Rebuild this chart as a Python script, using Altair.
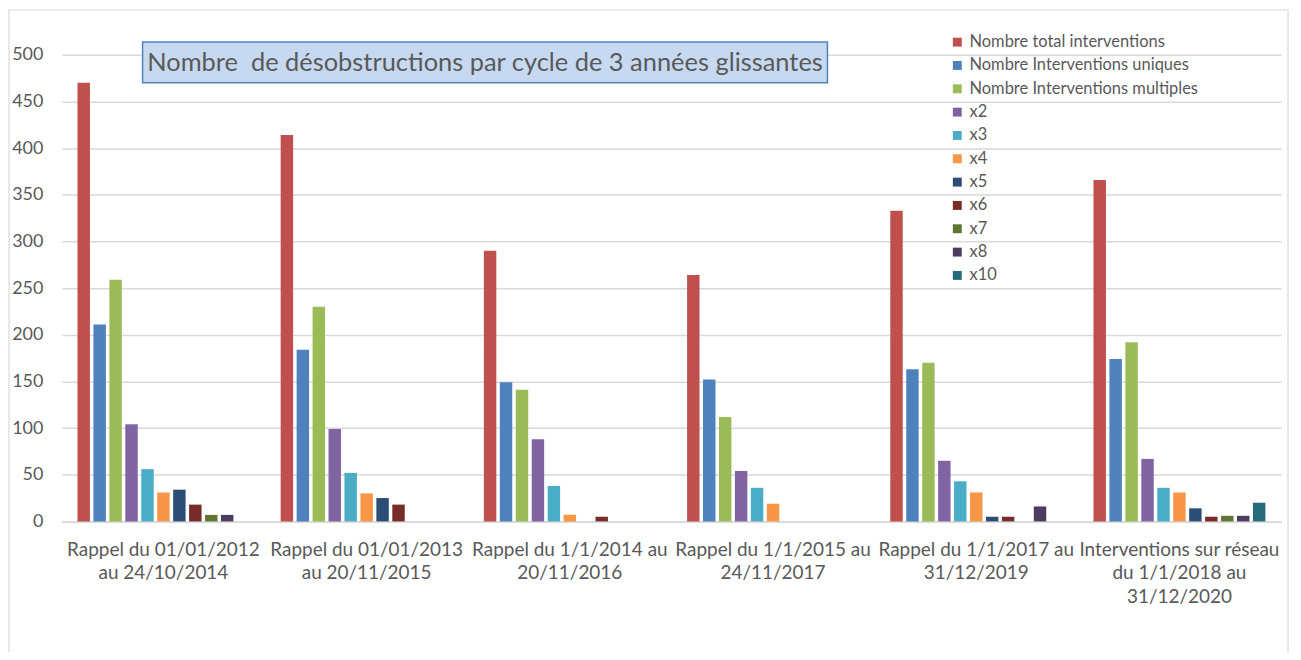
import altair as alt
import pandas as pd

# ---- data ----
categories = [
    "Rappel du 01/01/2012\nau 24/10/2014",
    "Rappel du 01/01/2013\nau 20/11/2015",
    "Rappel du 1/1/2014 au\n20/11/2016",
    "Rappel du 1/1/2015 au\n24/11/2017",
    "Rappel du 1/1/2017 au\n31/12/2019",
    "Interventions sur réseau\ndu 1/1/2018 au\n31/12/2020",
]
series_names = [
    "Nombre total interventions",
    "Nombre Interventions uniques",
    "Nombre Interventions multiples",
    "x2", "x3", "x4", "x5", "x6", "x7", "x8", "x10",
]
total = [470, 414, 290, 264, 333, 366]
uniques = [211, 184, 149, 152, 163, 174]
multiples = [259, 230, 141, 112, 170, 192]
x2 = [104, 99, 88, 54, 65, 67]
x3 = [56, 52, 38, 36, 43, 36]
x4 = [31, 30, 7, 19, 31, 31]
x5 = [34, 25, None, None, 5, 14]
x6 = [18, 18, 5, None, 5, 5]
x7 = [7, None, None, None, None, 6]
x8 = [7, None, None, None, 16, 6]
x10 = [None, None, None, None, None, 20]
colors = ["#C0504D", "#4F81BD", "#9BBB59", "#8064A2", "#4BACC6", "#F79646",
          "#2C4D75", "#772C2A", "#5F7530", "#4D3B62", "#276A7C"]
y_ticks = [0, 50, 100, 150, 200, 250, 300, 350, 400, 450, 500]
title_text = "Nombre\u00a0 de désobstructions par cycle de 3 années glissantes"

all_series = [total, uniques, multiples, x2, x3, x4, x5, x6, x7, x8, x10]
rows = []
for name, vals in zip(series_names, all_series):
    for cat, v in zip(categories, vals):
        if v is not None:
            rows.append({"cat": cat, "series": name, "value": v})
df = pd.DataFrame(rows)

W, H = 1223, 468
FONT = "Lato"
GREY = "#595959"

bars = alt.Chart(df).mark_bar().encode(
    x=alt.X("cat:N", sort=categories, title=None,
            scale=alt.Scale(domain=categories, paddingInner=0.154, paddingOuter=0.077),
            axis=alt.Axis(labelExpr="split(datum.label, '\\n')", labelAngle=0,
                          labelFont=FONT, labelFontSize=19, labelColor=GREY,
                          labelLineHeight=23.5, labelPadding=19, labelBaseline="top",
                          labelLimit=400, ticks=False, domainColor="#D9D9D9",
                          domainWidth=1.5, grid=False)),
    xOffset=alt.XOffset("series:N", sort=series_names,
                        scale=alt.Scale(domain=series_names, paddingInner=0.22, paddingOuter=0)),
    y=alt.Y("value:Q", title=None,
            scale=alt.Scale(domain=[0, 500], nice=False),
            axis=alt.Axis(values=y_ticks, labelFont=FONT, labelFontSize=18, labelColor=GREY,
                          labelPadding=19, ticks=False, domain=False,
                          gridColor="#D9D9D9", gridWidth=1.5)),
    color=alt.Color("series:N", sort=series_names, title=None,
                    scale=alt.Scale(domain=series_names, range=colors),
                    legend=alt.Legend(orient="none", legendX=890, legendY=-21,
                                      symbolType="square", symbolSize=80,
                                      symbolStrokeWidth=0,
                                      labelFont=FONT, labelFontSize=16.5, labelColor=GREY,
                                      rowPadding=6.4, labelOffset=4, labelLimit=400)),
)

one = pd.DataFrame({"t": [title_text]})

border = alt.Chart(one).mark_rect(fill=None, stroke="#D9D9D9", strokeWidth=1.2).encode(
    x=alt.value(-53), x2=alt.value(1230), y=alt.value(-45), y2=alt.value(700))

title_box = alt.Chart(one).mark_rect(fill="#C6D9F1", stroke="#4F81BD", strokeWidth=1.5).encode(
    x=alt.value(81), x2=alt.value(768), y=alt.value(-13), y2=alt.value(28))

title = alt.Chart(one).mark_text(font=FONT, fontSize=25.5, color=GREY,
                                 align="center", baseline="middle").encode(
    x=alt.value(424.5), y=alt.value(8), text=alt.Text("t:N"))

chart = alt.layer(border, bars, title_box, title).properties(
    width=W, height=H,
    autosize=alt.AutoSizeParams(type="none"),
    padding={"left": 54, "top": 46, "right": 12, "bottom": 130},
    background="white",
).configure_view(stroke=None)

chart.save("out.html", embed_options={"renderer": "svg", "actions": False})
